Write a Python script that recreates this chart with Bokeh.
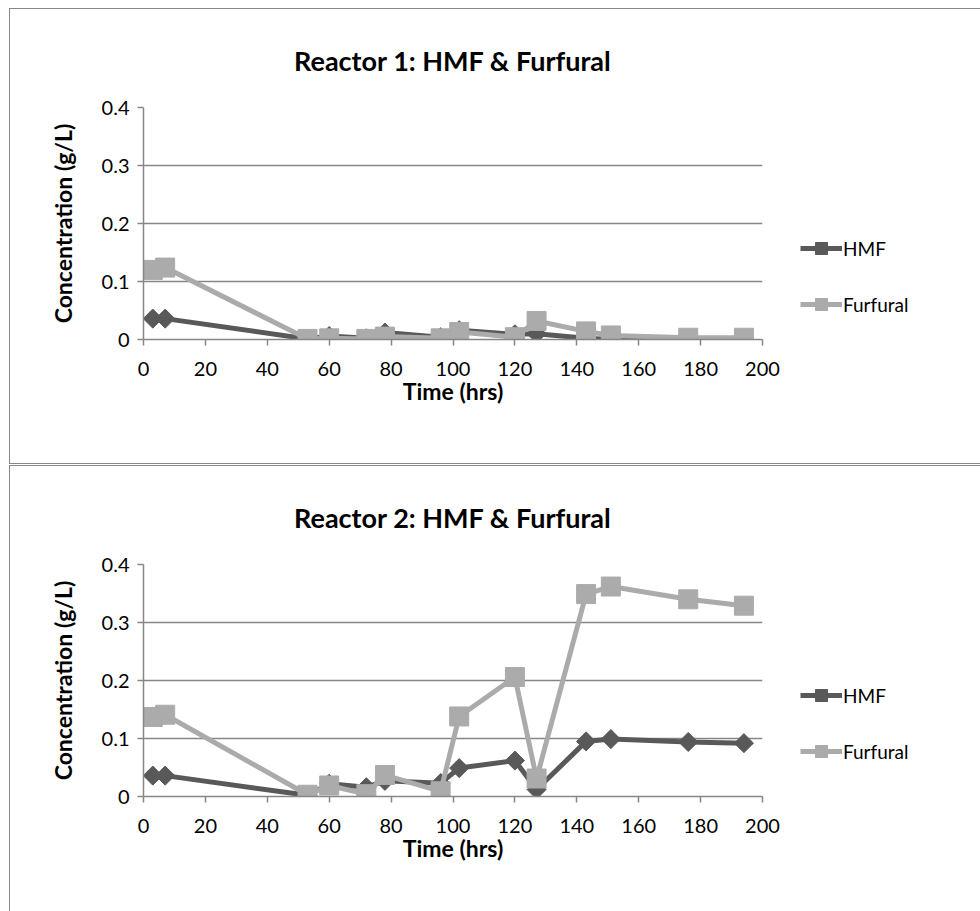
import math
from bokeh.plotting import figure
from bokeh.models import Legend, LegendItem, FixedTicker, Range1d
from bokeh.layouts import column
from bokeh.embed import file_html
from bokeh.resources import INLINE

# ---- data ----
time_hrs = [3, 7, 53, 60, 72, 78, 96, 102, 120, 127, 143, 151, 176, 194]

r1_hmf = [0.036, 0.036, 0.001, 0.006, 0.002, 0.012, 0.004, 0.016, 0.009, 0.010, 0.002, 0.0, 0.0, 0.0]
r1_furfural = [0.120, 0.124, 0.001, 0.002, 0.001, 0.005, 0.002, 0.013, 0.004, 0.032, 0.014, 0.007, 0.003, 0.003]

r2_hmf = [0.036, 0.036, 0.002, 0.022, 0.016, 0.027, 0.023, 0.049, 0.062, 0.012, 0.095, 0.099, 0.094, 0.092]
r2_furfural = [0.137, 0.141, 0.003, 0.019, 0.004, 0.037, 0.009, 0.138, 0.206, 0.031, 0.349, 0.362, 0.340, 0.329]

titles = ["Reactor 1: HMF & Furfural", "Reactor 2: HMF & Furfural"]
series_names = ["HMF", "Furfural"]
x_ticks = [0, 20, 40, 60, 80, 100, 120, 140, 160, 180, 200]
y_ticks = [0, 0.1, 0.2, 0.3, 0.4]
y_tick_labels = ["0", "0.1", "0.2", "0.3", "0.4"]
x_title = "Time (hrs)"
y_title = "Concentration (g/L)"

HMF_COLOR = "#595959"
FURF_COLOR = "#ababab"
GRID = "#868686"
FONT = "Lato"


def make_chart(title, hmf, furf, height, legend_y):
    p = figure(frame_width=619, frame_height=232, output_backend="svg", toolbar_location=None,
               x_range=Range1d(0, 200), y_range=Range1d(0, 0.4),
               min_border_left=133, min_border_right=223,
               min_border_top=98, min_border_bottom=height - 98 - 232)
    p.outline_line_color = None
    p.background_fill_color = "white"
    p.border_fill_color = "white"

    p.title.text = title
    p.title.text_font = FONT
    p.title.text_font_size = "27px"
    p.title.text_font_style = "bold"
    p.title.text_color = "black"
    p.title.align = "center"
    p.title.standoff = 62

    p.xaxis.ticker = FixedTicker(ticks=x_ticks)
    p.yaxis.ticker = FixedTicker(ticks=y_ticks)
    p.yaxis.major_label_overrides = dict(zip(y_ticks, y_tick_labels))
    for ax in (p.xaxis, p.yaxis):
        ax.axis_line_color = GRID
        ax.axis_line_width = 1.5
        ax.major_tick_line_color = GRID
        ax.major_tick_line_width = 1.5
        ax.major_tick_out = 6
        ax.major_tick_in = 0
        ax.minor_tick_line_color = None
        ax.major_label_text_font = FONT
        ax.major_label_text_font_size = "20px"
        ax.major_label_text_color = "black"
        ax.axis_label_text_font = FONT
        ax.axis_label_text_font_size = "23px"
        ax.axis_label_text_font_style = "bold"
        ax.axis_label_text_color = "black"
    p.xaxis.major_label_standoff = 16
    p.yaxis.major_label_standoff = 8
    p.xaxis.axis_label = x_title
    p.yaxis.axis_label = y_title
    p.xaxis.axis_label_standoff = -2
    p.yaxis.axis_label_standoff = 22

    p.xgrid.grid_line_color = None
    p.ygrid.grid_line_color = GRID
    p.ygrid.grid_line_width = 1.5

    l1 = p.line(time_hrs, hmf, line_color=HMF_COLOR, line_width=5)
    s1 = p.scatter(time_hrs, hmf, marker="square", size=13.5, angle=math.pi / 4,
                   fill_color=HMF_COLOR, line_color=HMF_COLOR)
    l2 = p.line(time_hrs, furf, line_color=FURF_COLOR, line_width=5)
    s2 = p.scatter(time_hrs, furf, marker="square", size=19,
                   fill_color=FURF_COLOR, line_color=FURF_COLOR)

    legend = Legend(items=[LegendItem(label=series_names[0], renderers=[l1, s1]),
                           LegendItem(label=series_names[1], renderers=[l2, s2])],
                    location=(38, legend_y), orientation="vertical",
                    border_line_color=None, background_fill_alpha=0,
                    label_text_font=FONT, label_text_font_size="19px",
                    label_text_color="black",
                    glyph_width=42, glyph_height=30, spacing=26,
                    padding=0, margin=0, label_standoff=1)
    p.add_layout(legend, "right")
    p.styles = {"outline": "1.5px solid #878787"}
    return p


p1 = make_chart(titles[0], r1_hmf, r1_furfural, 454, 20)
p2 = make_chart(titles[1], r2_hmf, r2_furfural, 450, 30)

layout = column(p1, p2, spacing=3)
layout.margin = (9, 0, 0, 10)

open("out.html", "w").write(file_html(layout, INLINE))
